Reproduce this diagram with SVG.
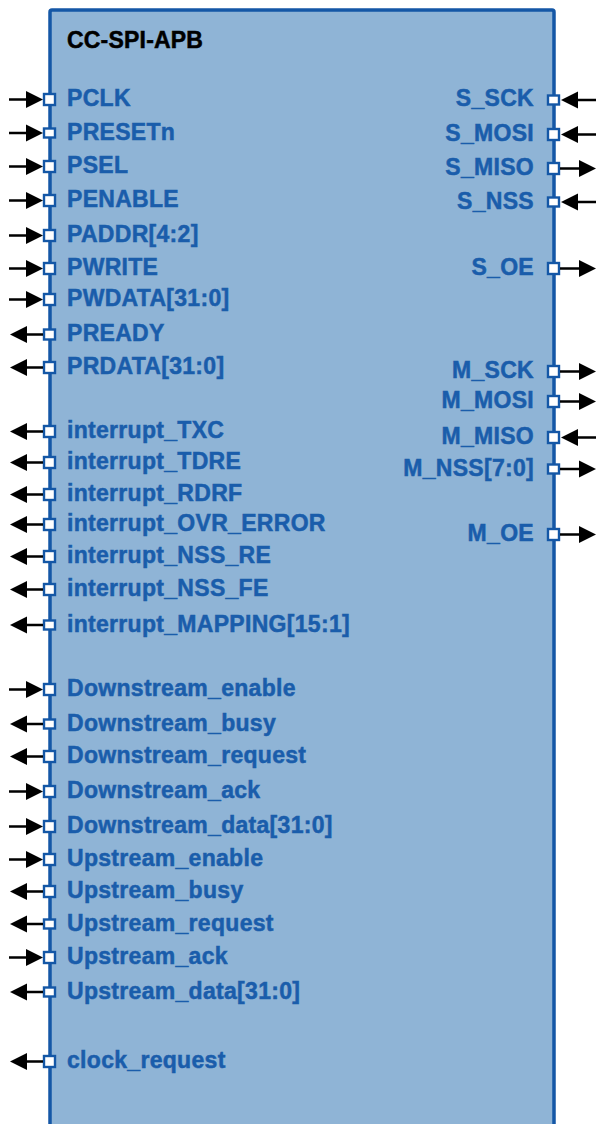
<svg xmlns="http://www.w3.org/2000/svg" xmlns:xlink="http://www.w3.org/1999/xlink" width="596" height="1124" viewBox="0 0 596 1124">
<style>
.blk{fill:#8FB4D6;stroke:#1457A6;stroke-width:3.5}
text{font-family:"Liberation Sans",Arial,Helvetica,sans-serif;font-weight:700}
.t{font-size:23px;letter-spacing:0.3px;fill:#1A5DAB;stroke:#1A5DAB;stroke-width:0.5px}
.r{text-anchor:end}
.title{font-size:23px;letter-spacing:0.2px;fill:#000;stroke:#000;stroke-width:0.5px}
.p{fill:#fff;stroke:#1457A6;stroke-width:2.4}
.l{stroke:#000;stroke-width:2.6;fill:none}
.h{fill:#000}
</style>
<defs>
<path id="hd" d="M-17,-8.5 L0,0 L-17,8.5 z"/>
</defs>
<g id="block">
<rect class="blk" x="50" y="10" width="504" height="1130" rx="2"/>
<text class="title" x="67" y="48">CC-SPI-APB</text>
</g>
<g id="ports-left">
<g id="p-PCLK"><rect class="p" x="44" y="94" width="11" height="11"/><text class="t" x="67" y="106">PCLK</text></g>
<g id="p-PRESETn"><rect class="p" x="44" y="128.5" width="11" height="9"/><text class="t" x="67" y="140">PRESETn</text></g>
<g id="p-PSEL"><rect class="p" x="44" y="161" width="11" height="11"/><text class="t" x="67" y="173">PSEL</text></g>
<g id="p-PENABLE"><rect class="p" x="44" y="195" width="11" height="11"/><text class="t" x="67" y="207">PENABLE</text></g>
<g id="p-PADDR"><rect class="p" x="44" y="230" width="11" height="11"/><text class="t" x="67" y="242">PADDR[4:2]</text></g>
<g id="p-PWRITE"><rect class="p" x="44" y="263" width="11" height="11"/><text class="t" x="67" y="275">PWRITE</text></g>
<g id="p-PWDATA"><rect class="p" x="44" y="294" width="11" height="11"/><text class="t" x="67" y="306">PWDATA[31:0]</text></g>
<g id="p-PREADY"><rect class="p" x="44" y="329.5" width="11" height="10"/><text class="t" x="67" y="341">PREADY</text></g>
<g id="p-PRDATA"><rect class="p" x="44" y="362" width="11" height="11"/><text class="t" x="67" y="374">PRDATA[31:0]</text></g>
<g id="p-TXC"><rect class="p" x="44" y="426" width="11" height="11"/><text class="t" x="67" y="438">interrupt_TXC</text></g>
<g id="p-TDRE"><rect class="p" x="44" y="457" width="11" height="11"/><text class="t" x="67" y="469">interrupt_TDRE</text></g>
<g id="p-RDRF"><rect class="p" x="44" y="489" width="11" height="11"/><text class="t" x="67" y="501">interrupt_RDRF</text></g>
<g id="p-OVR"><rect class="p" x="44" y="519" width="11" height="11"/><text class="t" x="67" y="531">interrupt_OVR_ERROR</text></g>
<g id="p-NSSRE"><rect class="p" x="44" y="551" width="11" height="11"/><text class="t" x="67" y="563">interrupt_NSS_RE</text></g>
<g id="p-NSSFE"><rect class="p" x="44" y="584" width="11" height="11"/><text class="t" x="67" y="596">interrupt_NSS_FE</text></g>
<g id="p-MAPPING"><rect class="p" x="44" y="620.5" width="11" height="9"/><text class="t" x="67" y="632">interrupt_MAPPING[15:1]</text></g>
<g id="p-DSen"><rect class="p" x="44" y="684" width="11" height="11"/><text class="t" x="67" y="696">Downstream_enable</text></g>
<g id="p-DSbusy"><rect class="p" x="44" y="719.5" width="11" height="9"/><text class="t" x="67" y="731">Downstream_busy</text></g>
<g id="p-DSreq"><rect class="p" x="44" y="751" width="11" height="11"/><text class="t" x="67" y="763">Downstream_request</text></g>
<g id="p-DSack"><rect class="p" x="44" y="786" width="11" height="11"/><text class="t" x="67" y="798">Downstream_ack</text></g>
<g id="p-DSdata"><rect class="p" x="44" y="821" width="11" height="11"/><text class="t" x="67" y="833">Downstream_data[31:0]</text></g>
<g id="p-USen"><rect class="p" x="44" y="854" width="11" height="11"/><text class="t" x="67" y="866">Upstream_enable</text></g>
<g id="p-USbusy"><rect class="p" x="44" y="886" width="11" height="11"/><text class="t" x="67" y="898">Upstream_busy</text></g>
<g id="p-USreq"><rect class="p" x="44" y="919.5" width="11" height="9"/><text class="t" x="67" y="931">Upstream_request</text></g>
<g id="p-USack"><rect class="p" x="44" y="952" width="11" height="11"/><text class="t" x="67" y="964">Upstream_ack</text></g>
<g id="p-USdata"><rect class="p" x="44" y="987.5" width="11" height="9"/><text class="t" x="67" y="999">Upstream_data[31:0]</text></g>
<g id="p-clkreq"><rect class="p" x="44" y="1056" width="11" height="11"/><text class="t" x="67" y="1068">clock_request</text></g>
</g>
<g id="ports-right">
<g id="p-S_SCK"><rect class="p" x="548" y="95.5" width="11" height="9"/><text class="t r" x="534" y="106">S_SCK</text></g>
<g id="p-S_MOSI"><rect class="p" x="548" y="129" width="11" height="11"/><text class="t r" x="534" y="141">S_MOSI</text></g>
<g id="p-S_MISO"><rect class="p" x="548" y="163" width="11" height="11"/><text class="t r" x="534" y="175">S_MISO</text></g>
<g id="p-S_NSS"><rect class="p" x="548" y="197.5" width="11" height="9"/><text class="t r" x="534" y="209">S_NSS</text></g>
<g id="p-S_OE"><rect class="p" x="548" y="263" width="11" height="11"/><text class="t r" x="534" y="275">S_OE</text></g>
<g id="p-M_SCK"><rect class="p" x="548" y="366" width="11" height="11"/><text class="t r" x="534" y="378">M_SCK</text></g>
<g id="p-M_MOSI"><rect class="p" x="548" y="396" width="11" height="11"/><text class="t r" x="534" y="408">M_MOSI</text></g>
<g id="p-M_MISO"><rect class="p" x="548" y="432" width="11" height="11"/><text class="t r" x="534" y="444">M_MISO</text></g>
<g id="p-M_NSS"><rect class="p" x="548" y="464.5" width="11" height="9"/><text class="t r" x="534" y="476">M_NSS[7:0]</text></g>
<g id="p-M_OE"><rect class="p" x="548" y="529" width="11" height="11"/><text class="t r" x="534" y="541">M_OE</text></g>
</g>
<g id="connectors">
<g class="l">
<path d="M9,99.5H30M9,133H30M9,166.5H30M9,200.5H30M9,235.5H30M9,268.5H30M9,299.5H30"/>
<path d="M43,334.5H22M43,367.5H22M43,431.5H22M43,462.5H22M43,494.5H22M43,524.5H22M43,556.5H22M43,589.5H22M43,625H22"/>
<path d="M9,689.5H30M43,724H22M43,756.5H22M9,791.5H30M9,826.5H30M9,859.5H30M43,891.5H22M43,924H22M9,957.5H30M43,992H22M43,1061.5H22"/>
<path d="M596,100H574M596,134.5H574M560,168.5H583M596,202H574M560,268.5H583M560,371.5H583M560,401.5H583M596,437.5H574M560,469H583M560,534.5H583"/>
</g>
<g class="h">
<use xlink:href="#hd" transform="translate(43,99.5)"/>
<use xlink:href="#hd" transform="translate(43,133)"/>
<use xlink:href="#hd" transform="translate(43,166.5)"/>
<use xlink:href="#hd" transform="translate(43,200.5)"/>
<use xlink:href="#hd" transform="translate(43,235.5)"/>
<use xlink:href="#hd" transform="translate(43,268.5)"/>
<use xlink:href="#hd" transform="translate(43,299.5)"/>
<use xlink:href="#hd" transform="translate(10,334.5) rotate(180)"/>
<use xlink:href="#hd" transform="translate(10,367.5) rotate(180)"/>
<use xlink:href="#hd" transform="translate(10,431.5) rotate(180)"/>
<use xlink:href="#hd" transform="translate(10,462.5) rotate(180)"/>
<use xlink:href="#hd" transform="translate(10,494.5) rotate(180)"/>
<use xlink:href="#hd" transform="translate(10,524.5) rotate(180)"/>
<use xlink:href="#hd" transform="translate(10,556.5) rotate(180)"/>
<use xlink:href="#hd" transform="translate(10,589.5) rotate(180)"/>
<use xlink:href="#hd" transform="translate(10,625) rotate(180)"/>
<use xlink:href="#hd" transform="translate(43,689.5)"/>
<use xlink:href="#hd" transform="translate(10,724) rotate(180)"/>
<use xlink:href="#hd" transform="translate(10,756.5) rotate(180)"/>
<use xlink:href="#hd" transform="translate(43,791.5)"/>
<use xlink:href="#hd" transform="translate(43,826.5)"/>
<use xlink:href="#hd" transform="translate(43,859.5)"/>
<use xlink:href="#hd" transform="translate(10,891.5) rotate(180)"/>
<use xlink:href="#hd" transform="translate(10,924) rotate(180)"/>
<use xlink:href="#hd" transform="translate(43,957.5)"/>
<use xlink:href="#hd" transform="translate(10,992) rotate(180)"/>
<use xlink:href="#hd" transform="translate(10,1061.5) rotate(180)"/>
<use xlink:href="#hd" transform="translate(561,100) rotate(180)"/>
<use xlink:href="#hd" transform="translate(561,134.5) rotate(180)"/>
<use xlink:href="#hd" transform="translate(596,168.5)"/>
<use xlink:href="#hd" transform="translate(561,202) rotate(180)"/>
<use xlink:href="#hd" transform="translate(596,268.5)"/>
<use xlink:href="#hd" transform="translate(596,371.5)"/>
<use xlink:href="#hd" transform="translate(596,401.5)"/>
<use xlink:href="#hd" transform="translate(561,437.5) rotate(180)"/>
<use xlink:href="#hd" transform="translate(596,469)"/>
<use xlink:href="#hd" transform="translate(596,534.5)"/>
</g>
</g>
</svg>
